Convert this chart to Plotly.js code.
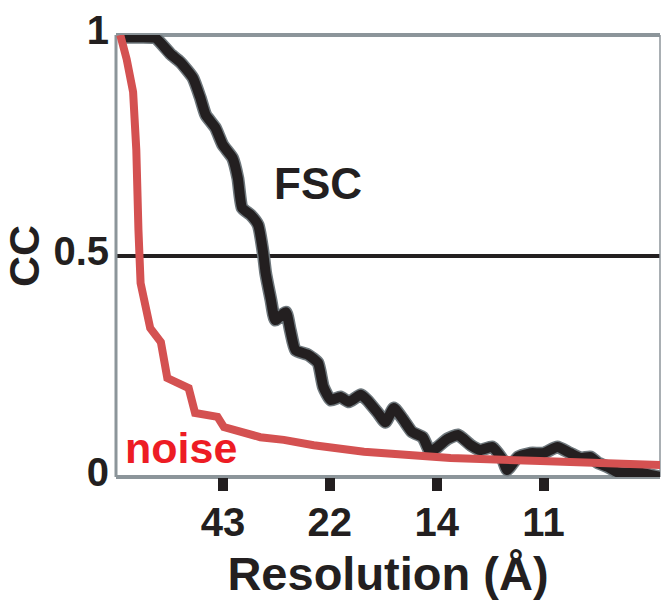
<!DOCTYPE html>
<html>
<head>
<meta charset="utf-8">
<script src="https://cdn.plot.ly/plotly-3.0.1.min.js"></script>
<style>
  html, body { margin: 0; padding: 0; background: #ffffff; }
  #chart { width: 661px; height: 606px; }
</style>
</head>
<body>
<div id="chart"></div>
<script>
// Spatial frequency (shell units; tick k = resolution label k)
const fscFreq = [0.04, 0.23, 0.37, 0.51, 0.60, 0.72, 0.79, 0.84, 0.93, 1.00, 1.09, 1.14, 1.18, 1.26, 1.33,
  1.38, 1.40, 1.45, 1.49, 1.59, 1.63, 1.68, 1.80, 1.89, 1.94, 2.01, 2.10, 2.18, 2.29, 2.35, 2.45, 2.52,
  2.60, 2.69, 2.77, 2.87, 2.94, 3.01, 3.10, 3.20, 3.32, 3.41, 3.52, 3.62, 3.66, 3.76, 3.88, 4.00, 4.13,
  4.25, 4.35, 4.44, 4.51, 4.60, 4.69, 4.79, 4.88, 5.00, 5.10];
const fscCC = [0.995, 0.995, 0.993, 0.957, 0.939, 0.903, 0.857, 0.819, 0.790, 0.751, 0.722, 0.676, 0.609, 0.593, 0.570,
  0.502, 0.462, 0.400, 0.355, 0.373, 0.333, 0.287, 0.276, 0.258, 0.204, 0.174, 0.181, 0.170, 0.186, 0.174, 0.145, 0.124,
  0.156, 0.129, 0.102, 0.090, 0.057, 0.068, 0.086, 0.095, 0.072, 0.061, 0.068, 0.038, 0.016, 0.045, 0.054, 0.054, 0.068,
  0.054, 0.043, 0.045, 0.032, 0.023, 0.011, 0.009, 0.011, 0.005, 0.000];

const noiseFreq = [0.04, 0.10, 0.16, 0.19, 0.21, 0.23, 0.32, 0.42, 0.48, 0.68, 0.74, 0.95, 1.01, 1.35, 1.57,
  1.85, 2.32, 2.64, 3.13, 3.97, 5.10];
const noiseCC = [1.000, 0.945, 0.871, 0.740, 0.559, 0.439, 0.337, 0.305, 0.224, 0.201, 0.145, 0.136, 0.113, 0.090, 0.084,
  0.072, 0.057, 0.050, 0.043, 0.036, 0.027];

const xTickVals = [1, 2, 3, 4];
const xTickText = ['43', '22', '14', '11'];
const yTickVals = [0, 0.5, 1];
const yTickText = ['0', '0.5', '1'];

const FONT = 'Liberation Sans, Arial, Helvetica, sans-serif';
const INK = '#231f20';
const FRAME = '#8c959a';

const traces = [
  { x: fscFreq, y: fscCC, type: 'scatter', mode: 'lines', name: 'FSC shadow',
    line: { color: '#6f787d', width: 13, shape: 'spline', smoothing: 0.5 }, hoverinfo: 'skip', showlegend: false },
  { x: fscFreq, y: fscCC, type: 'scatter', mode: 'lines', name: 'FSC',
    line: { color: INK, width: 10, shape: 'spline', smoothing: 0.5 }, showlegend: false },
  { x: noiseFreq, y: noiseCC, type: 'scatter', mode: 'lines', name: 'noise',
    line: { color: '#d45151', width: 8 }, showlegend: false }
];

const layout = {
  width: 661, height: 606,
  margin: { l: 116, r: 1, t: 35, b: 129 },
  paper_bgcolor: '#ffffff', plot_bgcolor: '#ffffff',
  showlegend: false,
  font: { family: FONT, color: INK },
  xaxis: {
    range: [0, 5.09], fixedrange: true,
    tickvals: xTickVals, ticktext: xTickText,
    ticks: 'outside', ticklen: 13, tickwidth: 10, tickcolor: INK,
    ticklabelstandoff: -3,
    tickfont: { family: FONT, size: 40, color: INK, weight: 'bold' },
    showgrid: false, zeroline: false, showline: false,
    automargin: false,
    title: { text: 'Resolution (Å)', font: { family: FONT, size: 47, color: INK, weight: 'bold' }, standoff: 14 }
  },
  yaxis: {
    range: [0, 1], fixedrange: true,
    tickvals: yTickVals, ticktext: yTickText,
    ticks: '', ticklabelstandoff: 6, ticklabelshift: -5,
    tickfont: { family: FONT, size: 40, color: INK, weight: 'bold' },
    showgrid: false, zeroline: false, showline: false,
    automargin: false,
    title: { text: 'CC', font: { family: FONT, size: 43, color: INK, weight: 'bold' }, standoff: 5 }
  },
  shapes: [
    { type: 'line', xref: 'paper', yref: 'y', x0: 0, x1: 1, y0: 0.5, y1: 0.5, layer: 'below',
      line: { color: INK, width: 4 } },
    { type: 'line', xref: 'paper', yref: 'paper', x0: 0, x1: 1, y0: 1, y1: 1, line: { color: FRAME, width: 4 }, layer: 'below' },
    { type: 'line', xref: 'paper', yref: 'paper', x0: 0, x1: 1, y0: 0, y1: 0, line: { color: FRAME, width: 4 }, layer: 'below' },
    { type: 'line', xref: 'paper', yref: 'paper', x0: 0, x1: 0, y0: 0, y1: 1, line: { color: FRAME, width: 3 }, layer: 'below' },
    { type: 'line', xref: 'paper', yref: 'paper', x0: 1, x1: 1, y0: 0, y1: 1, line: { color: FRAME, width: 1.5 }, layer: 'below' }
  ],
  annotations: [
    { x: 1.89, y: 0.665, xref: 'x', yref: 'y', text: 'FSC', showarrow: false,
      xanchor: 'center', yanchor: 'middle',
      font: { family: FONT, size: 44, color: INK, weight: 'bold' } },
    { x: 0.61, y: 0.066, xref: 'x', yref: 'y', text: 'noise', showarrow: false,
      xanchor: 'center', yanchor: 'middle',
      font: { family: FONT, size: 43, color: '#ed1c24', weight: 'bold' } }
  ]
};

Plotly.newPlot('chart', traces, layout, { displayModeBar: false, staticPlot: true });
</script>
</body>
</html>
